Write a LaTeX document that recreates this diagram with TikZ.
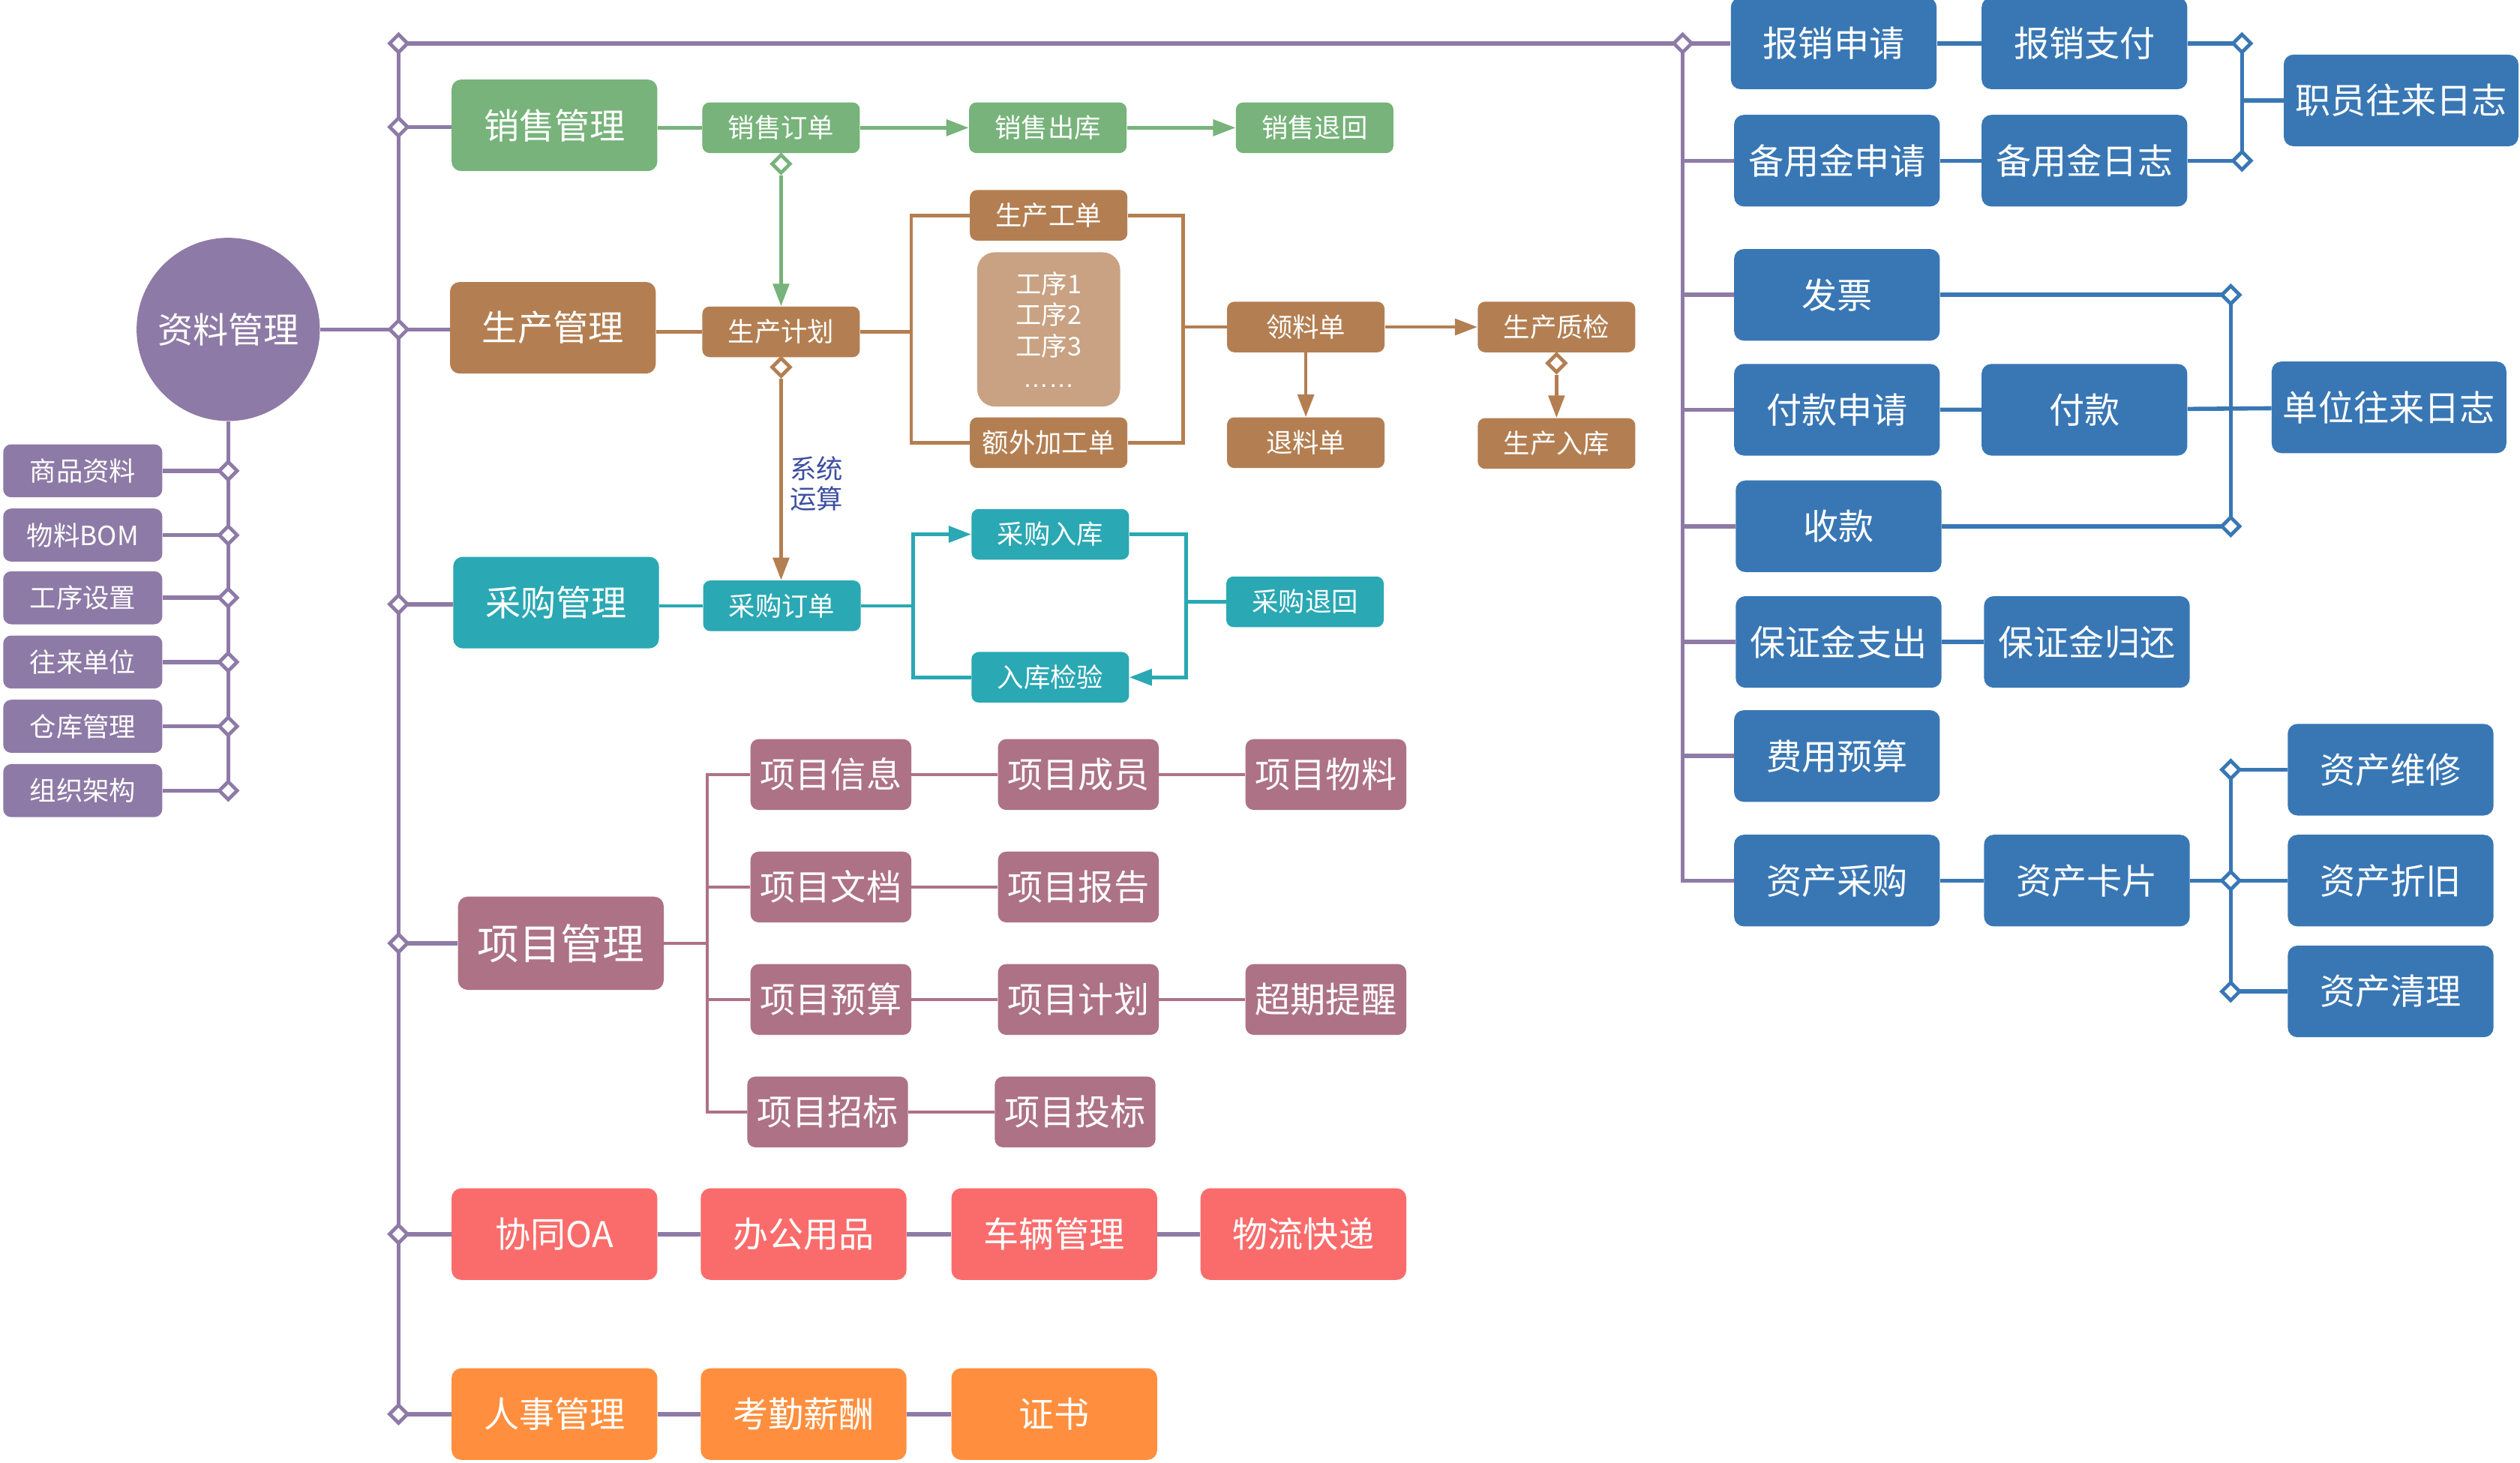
\documentclass[tikz,border=0pt]{standalone}
\usepackage{fontspec}
\setmainfont{Noto Sans CJK SC}
\newfontfamily\latf{Liberation Sans}
\usetikzlibrary{shapes.geometric,arrows.meta}
\pgfdeclarelayer{back}
\pgfdeclarelayer{bg}
\pgfsetlayers{back,bg,main}
\definecolor{cPur}{HTML}{8E7AA6}
\definecolor{cGrn}{HTML}{77B37A}
\definecolor{cBrn}{HTML}{B37F52}
\definecolor{cLbr}{HTML}{C8A283}
\definecolor{cTea}{HTML}{2AA8B3}
\definecolor{cMau}{HTML}{AD7285}
\definecolor{cCor}{HTML}{FA6C6B}
\definecolor{cOra}{HTML}{FF8F3E}
\definecolor{cBlu}{HTML}{3977B4}
\definecolor{cTxt}{HTML}{3D4FA1}
\tikzset{
  box/.style={rounded corners=6pt, text=white, inner sep=0pt, align=center},
  big/.style={box, fill=#1, minimum width=128pt, minimum height=57pt, font=\fontsize{22}{26}\selectfont},
  sml/.style={box, fill=#1, rounded corners=4.5pt, minimum width=98pt, minimum height=31.5pt, font=\fontsize{16.5}{19}\selectfont},
  prj/.style={box, fill=cMau, rounded corners=5pt, minimum width=100pt, minimum height=44pt, font=\fontsize{22}{26}\selectfont},
  wide/.style={big=cBlu, minimum width=146pt},
  side/.style={box, fill=cPur, rounded corners=5pt, minimum width=99pt, minimum height=33pt, font=\fontsize{16.5}{19}\selectfont},
  dm/.style={diamond, aspect=1, draw=#1, fill=white, line width=2.2pt, minimum size=12pt, inner sep=0pt},
  thk/.style={draw=#1, line width=2.6pt},
  thn/.style={draw=#1, line width=2.2pt},
  arr/.style={-{Triangle[width=10pt,length=14pt]}},
}
\begin{document}
\begin{tikzpicture}[x=1pt,y=-1pt]
\useasboundingbox (0,0) rectangle (1568,910);
\begin{pgfonlayer}{back}
\fill[white] (0,0) rectangle (1568,910);
\end{pgfonlayer}

% ---------- left: 资料管理 ----------
\node[circle, fill=cPur, minimum size=114pt, inner sep=0pt, text=white, font=\fontsize{22}{26}\selectfont] (zl) at (142,205) {资料管理};
\node[side] (L1) at (51.5,293) {商品资料};
\node[side] (L2) at (51.5,333) {物料BOM};
\node[side] (L3) at (51.5,372) {工序设置};
\node[side] (L4) at (51.5,412) {往来单位};
\node[side] (L5) at (51.5,452) {仓库管理};
\node[side] (L6) at (51.5,492) {组织架构};
\node[dm=cPur] (dL1) at (142,293) {};
\node[dm=cPur] (dL2) at (142,333) {};
\node[dm=cPur] (dL3) at (142,372) {};
\node[dm=cPur] (dL4) at (142,412) {};
\node[dm=cPur] (dL5) at (142,452) {};
\node[dm=cPur] (dL6) at (142,492) {};

% ---------- trunk diamonds ----------
\node[dm=cPur] (dTop) at (248,27) {};
\node[dm=cPur] (dS) at (248,79) {};
\node[dm=cPur] (dP) at (248,205) {};
\node[dm=cPur] (dC) at (248,376) {};
\node[dm=cPur] (dX) at (248,587) {};
\node[dm=cPur] (dO) at (248,768) {};
\node[dm=cPur] (dHR) at (248,880) {};
\node[dm=cPur] (dR) at (1047,27) {};

% ---------- main modules ----------
\node[big=cGrn] (xsgl) at (345,78) {销售管理};
\node[big=cBrn] (scgl) at (344,204) {生产管理};
\node[big=cTea] (cggl) at (346,375) {采购管理};
\node[big=cMau, minimum height=58pt, font=\fontsize{26}{30}\selectfont] (xmgl) at (349,587) {项目管理};
\node[big=cCor] (xtoa) at (345,768) {协同OA};
\node[big=cCor] (bgyp) at (500,768) {办公用品};
\node[big=cCor] (clgl) at (656,768) {车辆管理};
\node[big=cCor] (wlkd) at (811,768) {物流快递};
\node[big=cOra] (rsgl) at (345,880) {人事管理};
\node[big=cOra] (kqxc) at (500,880) {考勤薪酬};
\node[big=cOra] (zs) at (656,880) {证书};

% ---------- sales ----------
\node[sml=cGrn] (xsdd) at (486,79.5) {销售订单};
\node[sml=cGrn] (xsck) at (652,79.5) {销售出库};
\node[sml=cGrn] (xsth) at (818,79.5) {销售退回};
\node[dm=cGrn] (dSD) at (486,102) {};

% ---------- production ----------
\node[sml=cBrn] (scjh) at (486,206.5) {生产计划};
\node[sml=cBrn] (scgd) at (652.5,134) {生产工单};
\node[box, fill=cLbr, rounded corners=11pt, minimum width=89pt, minimum height=96pt, font=\fontsize{16}{19.5}\selectfont] (gx) at (652.5,205) {工序1\\工序2\\工序3\\{\latf ……}};
\node[sml=cBrn] (ewjg) at (652.5,275.5) {额外加工单};
\node[sml=cBrn] (lld) at (812.5,203.5) {领料单};
\node[sml=cBrn] (sczj) at (968.5,203.5) {生产质检};
\node[sml=cBrn] (tld) at (812.5,275.5) {退料单};
\node[sml=cBrn] (scrk) at (968.5,276) {生产入库};
\node[dm=cBrn] (dJH) at (486,228.5) {};
\node[dm=cBrn] (dZJ) at (968.5,226) {};
\node[text=cTxt, font=\fontsize{16.5}{19}\selectfont, align=center, inner sep=0pt] (xtys) at (508,301) {系统\\运算};
\coordinate (bkL) at (567,206.5);
\coordinate (bkR) at (736,203.5);

% ---------- purchase ----------
\node[sml=cTea] (cgdd) at (486.5,377) {采购订单};
\node[sml=cTea] (cgrk) at (653.5,332.5) {采购入库};
\node[sml=cTea] (rkjy) at (653.5,421.5) {入库检验};
\node[sml=cTea] (cgth) at (812,374.5) {采购退回};
\coordinate (tkL) at (568,377);
\coordinate (tkR) at (738,374.5);

% ---------- project ----------
\node[prj] (xmxx) at (517,482) {项目信息};
\node[prj] (xmcy) at (671,482) {项目成员};
\node[prj] (xmwl) at (825,482) {项目物料};
\node[prj] (xmwd) at (517,552) {项目文档};
\node[prj] (xmbg) at (671,552) {项目报告};
\node[prj] (xmys) at (517,622) {项目预算};
\node[prj] (xmjh) at (671,622) {项目计划};
\node[prj] (cqtx) at (825,622) {超期提醒};
\node[prj] (xmzb) at (515,692) {项目招标};
\node[prj] (xmtb) at (669,692) {项目投标};
\coordinate (pkL) at (440,587);

% ---------- finance (blue) ----------
\node[big=cBlu] (bxsq) at (1141,27) {报销申请};
\node[big=cBlu] (bxzf) at (1297,27) {报销支付};
\node[big=cBlu] (bysq) at (1143,100) {备用金申请};
\node[big=cBlu] (byrz) at (1297,100) {备用金日志};
\node[big=cBlu] (fp) at (1143,183.5) {发票};
\node[big=cBlu] (fksq) at (1143,255) {付款申请};
\node[big=cBlu] (fk) at (1297,255) {付款};
\node[big=cBlu] (sk) at (1144,327.5) {收款};
\node[big=cBlu] (bzjzc) at (1144,399.5) {保证金支出};
\node[big=cBlu] (bzjgh) at (1298.5,399.5) {保证金归还};
\node[big=cBlu] (fyys) at (1143,470.5) {费用预算};
\node[big=cBlu] (zccg) at (1143,548) {资产采购};
\node[big=cBlu] (zckp) at (1298.5,548) {资产卡片};
\node[wide] (zyrz) at (1494,62.5) {职员往来日志};
\node[wide] (dwrz) at (1486.5,253.5) {单位往来日志};
\node[big=cBlu] (zcwx) at (1487.5,479) {资产维修};
\node[big=cBlu] (zczj) at (1487.5,548) {资产折旧};
\node[big=cBlu] (zcql) at (1487.5,617) {资产清理};
\node[dm=cBlu] (dB1) at (1395,27) {};
\node[dm=cBlu] (dB2) at (1395,100) {};
\node[dm=cBlu] (dU1) at (1388,183.5) {};
\node[dm=cBlu] (dU2) at (1388,327.5) {};
\node[dm=cBlu] (dA1) at (1388,479) {};
\node[dm=cBlu] (dA2) at (1388,548) {};
\node[dm=cBlu] (dA3) at (1388,617) {};

% ---------- connectors ----------
\begin{pgfonlayer}{bg}
% purple trunk
\draw[thk=cPur] (dTop.center) -- (dHR.center);
\draw[thk=cPur] (dTop.center) -- (dR.center);
\draw[thk=cPur] (dR.center) |- (zccg.west);
\draw[thk=cPur] (dR.center) -- (bxsq.west);
\foreach \n in {bysq,fp,fksq,sk,bzjzc,fyys} \draw[thk=cPur] (dR |- \n.west) -- (\n.west);
\draw[thk=cPur] (zl) -- (dP.center);
\foreach \d/\b in {dS/xsgl,dP/scgl,dC/cggl,dX/xmgl,dO/xtoa,dHR/rsgl} \draw[thk=cPur] (\d.center) -- (\d.center -| \b.west);
\draw[thk=cPur] (xtoa) -- (bgyp) -- (clgl) -- (wlkd);
\draw[thk=cPur] (rsgl) -- (kqxc) -- (zs);
% left side
\draw[thk=cPur] (zl.south) -- (dL6.center);
\foreach \i in {1,...,6} \draw[thk=cPur] (dL\i.center) -- (dL\i.center -| L\i.east);
% sales
\draw[thn=cGrn] (xsgl.east |- xsdd.west) -- (xsdd.west);
\draw[thn=cGrn,arr] (xsdd) -- (xsck);
\draw[thn=cGrn,arr] (xsck) -- (xsth);
\draw[thn=cGrn,arr] (dSD) -- (scjh);
% production
\draw[thn=cBrn] (scgl.east |- scjh.west) -- (scjh.west);
\draw[thn=cBrn] (scjh) -- (bkL);
\draw[thn=cBrn] (scgd.west) -| (bkL |- ewjg.west) -- (ewjg.west);
\draw[thn=cBrn] (scgd.east) -| (bkR |- ewjg.east) -- (ewjg.east);
\draw[thn=cBrn] (bkR) -- (lld);
\draw[thn=cBrn,arr] (lld) -- (sczj);
\draw[thn=cBrn,arr] (lld) -- (tld);
\draw[thn=cBrn,arr] (dZJ) -- (scrk);
\draw[thn=cBrn,arr] (dJH) -- (dJH |- cgdd.north);
% purchase
\draw[thn=cTea] (cggl.east |- cgdd.west) -- (cgdd.west);
\draw[thn=cTea] (cgdd) -- (tkL);
\draw[thn=cTea,arr] (tkL) |- (cgrk.west);
\draw[thn=cTea] (tkL) |- (rkjy.west);
\draw[thn=cTea] (cgrk.east) -| (tkR);
\draw[thn=cTea,arr] (tkR) |- (rkjy.east);
\draw[thn=cTea] (tkR) -- (cgth);
% project
\draw[thn=cMau] (xmgl) -- (pkL);
\draw[thn=cMau] (xmxx.west) -| (pkL |- xmzb.west) -- (xmzb.west);
\draw[thn=cMau] (pkL |- xmwd.west) -- (xmwd.west);
\draw[thn=cMau] (pkL |- xmys.west) -- (xmys.west);
\draw[thn=cMau] (xmxx) -- (xmcy) -- (xmwl);
\draw[thn=cMau] (xmwd) -- (xmbg);
\draw[thn=cMau] (xmys) -- (xmjh) -- (cqtx);
\draw[thn=cMau] (xmzb) -- (xmtb);
% finance
\draw[thk=cBlu] (bxsq) -- (bxzf) -- (dB1.center);
\draw[thk=cBlu] (bysq) -- (byrz) -- (dB2.center);
\draw[thk=cBlu] (dB1.center) -- (dB2.center);
\draw[thk=cBlu] (dB1 |- zyrz.west) -- (zyrz.west);
\draw[thk=cBlu] (fp) -- (dU1.center);
\draw[thk=cBlu] (sk) -- (dU2.center);
\draw[thk=cBlu] (dU1.center) -- (dU2.center);
\draw[thk=cBlu] (fksq) -- (fk) -- (dwrz);
\draw[thk=cBlu] (bzjzc) -- (bzjgh);
\draw[thk=cBlu] (zccg) -- (zckp) -- (zczj);
\draw[thk=cBlu] (dA1.center) -- (dA3.center);
\draw[thk=cBlu] (dA1.center) -- (zcwx);
\draw[thk=cBlu] (dA3.center) -- (zcql);
\end{pgfonlayer}
\end{tikzpicture}
\end{document}
